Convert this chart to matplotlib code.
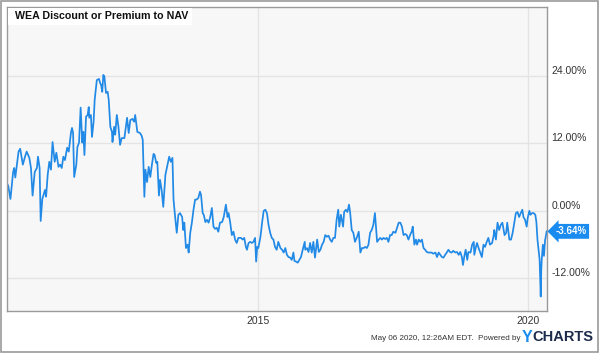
import numpy as np
import matplotlib
matplotlib.use("Agg")
import matplotlib.pyplot as plt
from matplotlib.patches import Rectangle

plt.rcParams["font.family"] = ["Liberation Sans", "DejaVu Sans"]

# decimal years and discount / premium to NAV (%)
years = [
    2010.36, 2010.37, 2010.41, 2010.46, 2010.48, 2010.50, 2010.56, 2010.59, 2010.64, 2010.68,
    2010.71, 2010.76, 2010.79, 2010.82, 2010.86, 2010.90, 2010.92, 2010.95, 2010.97, 2011.00,
    2011.05, 2011.07, 2011.10, 2011.13, 2011.16, 2011.19, 2011.23, 2011.26, 2011.30, 2011.33,
    2011.36, 2011.39, 2011.42, 2011.46, 2011.49, 2011.53, 2011.55, 2011.57, 2011.59, 2011.63,
    2011.65, 2011.68, 2011.71, 2011.74, 2011.76, 2011.78, 2011.81, 2011.84, 2011.86, 2011.87,
    2011.90, 2011.92, 2011.95, 2011.97, 2012.01, 2012.05, 2012.07, 2012.09, 2012.11, 2012.13,
    2012.15, 2012.18, 2012.21, 2012.23, 2012.26, 2012.29, 2012.30, 2012.33, 2012.35, 2012.38,
    2012.41, 2012.44, 2012.47, 2012.52, 2012.57, 2012.60, 2012.63, 2012.67, 2012.70, 2012.72,
    2012.76, 2012.81, 2012.84, 2012.86, 2012.89, 2012.91, 2012.94, 2012.97, 2013.00, 2013.03,
    2013.06, 2013.08, 2013.11, 2013.13, 2013.16, 2013.18, 2013.21, 2013.24, 2013.28, 2013.31,
    2013.35, 2013.38, 2013.41, 2013.43, 2013.46, 2013.49, 2013.52, 2013.55, 2013.59, 2013.61,
    2013.63, 2013.66, 2013.69, 2013.71, 2013.74, 2013.77, 2013.80, 2013.83, 2013.86, 2013.89,
    2013.92, 2013.94, 2013.97, 2013.99, 2014.02, 2014.05, 2014.08, 2014.11, 2014.14, 2014.17,
    2014.20, 2014.23, 2014.26, 2014.29, 2014.33, 2014.36, 2014.40, 2014.43, 2014.45, 2014.48,
    2014.51, 2014.54, 2014.57, 2014.60, 2014.63, 2014.68, 2014.71, 2014.74, 2014.77, 2014.79,
    2014.82, 2014.85, 2014.88, 2014.91, 2014.94, 2014.96, 2014.98, 2015.00, 2015.04, 2015.07,
    2015.10, 2015.13, 2015.16, 2015.19, 2015.22, 2015.25, 2015.28, 2015.31, 2015.34, 2015.37,
    2015.41, 2015.44, 2015.47, 2015.50, 2015.53, 2015.56, 2015.59, 2015.62, 2015.65, 2015.67,
    2015.70, 2015.73, 2015.76, 2015.79, 2015.83, 2015.86, 2015.87, 2015.90, 2015.93, 2015.96,
    2015.99, 2016.02, 2016.05, 2016.09, 2016.12, 2016.15, 2016.18, 2016.21, 2016.24, 2016.27,
    2016.30, 2016.33, 2016.36, 2016.39, 2016.42, 2016.45, 2016.48, 2016.50, 2016.53, 2016.57,
    2016.59, 2016.62, 2016.65, 2016.68, 2016.70, 2016.73, 2016.76, 2016.79, 2016.83, 2016.86,
    2016.89, 2016.92, 2016.95, 2016.98, 2017.01, 2017.04, 2017.07, 2017.10, 2017.13, 2017.16,
    2017.20, 2017.23, 2017.26, 2017.29, 2017.32, 2017.35, 2017.38, 2017.41, 2017.44, 2017.47,
    2017.50, 2017.54, 2017.57, 2017.60, 2017.63, 2017.66, 2017.69, 2017.72, 2017.75, 2017.78,
    2017.81, 2017.84, 2017.86, 2017.89, 2017.92, 2017.94, 2017.97, 2018.00, 2018.03, 2018.06,
    2018.09, 2018.12, 2018.15, 2018.18, 2018.21, 2018.24, 2018.28, 2018.31, 2018.34, 2018.37,
    2018.40, 2018.43, 2018.46, 2018.49, 2018.52, 2018.55, 2018.58, 2018.61, 2018.65, 2018.68,
    2018.71, 2018.74, 2018.77, 2018.79, 2018.82, 2018.84, 2018.87, 2018.89, 2018.93, 2018.96,
    2018.99, 2019.00, 2019.03, 2019.05, 2019.08, 2019.11, 2019.14, 2019.17, 2019.20, 2019.23,
    2019.26, 2019.29, 2019.33, 2019.36, 2019.37, 2019.40, 2019.43, 2019.46, 2019.49, 2019.52,
    2019.56, 2019.59, 2019.61, 2019.65, 2019.68, 2019.71, 2019.74, 2019.77, 2019.80, 2019.83,
    2019.86, 2019.89, 2019.91, 2019.94, 2019.97, 2019.99, 2020.02, 2020.04, 2020.07, 2020.10,
    2020.13, 2020.15, 2020.17, 2020.19, 2020.21, 2020.23, 2020.24, 2020.25, 2020.27, 2020.29,
    2020.31, 2020.34,
]
premium = [
    4.6, 4.4, 2.1, 6.9, 7.6, 5.9, 10.5, 11.0, 8.2, 9.6,
    10.5, 9.4, 7.6, 2.7, 6.9, 7.6, 9.6, 7.6, -1.8, 2.1,
    3.7, 2.5, 6.4, 8.7, 7.3, 12.2, 8.7, 10.3, 7.8, 8.2,
    7.6, 9.6, 9.0, 11.2, 10.5, 13.8, 14.7, 13.8, 6.0, 8.2,
    11.3, 12.1, 18.3, 12.1, 14.0, 9.9, 16.7, 17.0, 18.4, 16.5,
    17.0, 13.1, 15.8, 19.7, 23.2, 23.4, 22.7, 22.3, 21.1, 24.1,
    23.8, 20.9, 21.1, 19.7, 14.9, 14.0, 12.2, 14.9, 13.5, 17.0,
    14.9, 11.7, 12.9, 12.9, 16.5, 13.8, 16.1, 16.3, 15.8, 17.0,
    14.0, 13.8, 13.3, 12.6, 2.5, 7.3, 5.1, 7.8, 6.0, 8.2,
    10.1, 9.9, 8.5, 8.7, 2.7, 5.5, 3.7, 0.7, 6.4, 7.8,
    9.6, 8.7, 9.4, 2.0, -1.1, -3.9, -0.7, -0.4, -1.1, -3.4,
    -2.1, -6.6, -6.0, -7.4, -3.9, -2.1, 0.2, 2.0, 2.0, 2.3,
    3.4, 2.8, -0.4, -0.7, -2.0, -1.6, -2.1, -1.1, 0.5, -2.8,
    -3.2, -3.0, -3.7, -2.1, -2.0, -1.1, 1.1, -1.1, -0.4, -2.1,
    -4.3, -3.7, -5.1, -5.7, -4.8, -4.8, -5.1, -4.8, -6.4, -6.9,
    -5.7, -5.5, -5.7, -5.5, -4.8, -9.0, -6.4, -6.6, -4.6, -2.1,
    0.0, 0.2, -0.4, -2.5, -3.9, -4.8, -5.1, -6.4, -6.9, -5.5,
    -6.6, -6.9, -7.4, -6.6, -7.8, -8.2, -8.3, -8.7, -7.4, -8.9,
    -9.0, -9.2, -8.7, -8.2, -6.6, -5.5, -6.9, -6.6, -7.3, -5.7,
    -7.4, -5.5, -8.3, -5.1, -7.3, -6.9, -6.0, -5.5, -4.3, -4.6,
    -4.4, -5.1, -5.5, -4.8, -4.8, -1.6, 0.2, -2.8, -0.7, -2.8,
    -0.2, 0.2, -0.2, 1.1, -0.2, -3.4, -3.9, -5.5, -4.6, -3.7,
    -7.4, -6.6, -6.6, -6.4, -6.6, -6.0, -3.9, -3.4, -2.5, -0.4,
    -5.5, -5.1, -4.8, -5.1, -4.8, -5.0, -4.8, -5.5, -4.3, -4.3,
    -3.7, -3.9, -3.0, -2.1, -2.1, -2.8, -4.3, -4.1, -4.3, -5.1,
    -4.3, -3.7, -2.8, -6.0, -5.1, -6.0, -5.1, -5.5, -5.1, -6.6,
    -6.9, -7.3, -7.4, -7.4, -7.4, -7.6, -7.4, -8.2, -7.4, -7.8,
    -8.2, -8.3, -7.8, -7.4, -6.9, -7.3, -7.4, -7.1, -7.4, -7.3,
    -7.8, -7.3, -8.2, -9.6, -7.8, -6.9, -8.7, -7.3, -7.4, -6.0,
    -5.5, -7.8, -6.4, -5.7, -6.6, -7.4, -8.2, -6.0, -6.4, -5.5,
    -4.8, -6.0, -5.7, -4.3, -3.4, -5.1, -2.1, -3.4, -2.5, -2.1,
    -4.3, -3.9, -2.1, -5.1, -5.1, -3.9, -2.1, -0.4, -0.2, -1.1,
    -0.4, 0.2, -1.1, -1.6, -2.8, -1.2, 0.0, -0.7, -0.4, -0.4,
    -0.7, -2.0, -5.1, -6.9, -8.7, -15.2, -10.5, -8.5, -6.0, -8.0,
    -5.3, -3.64,
]
y_ticks = [-12, 0, 12, 24]
x_ticks = [2015, 2020]
title = "WEA Discount or Premium to NAV"

line_color = "#2189e6"

fig = plt.figure(figsize=(6, 3.53), dpi=100)
fig.patch.set_facecolor("white")
fig.patches.append(Rectangle((0.002, 0.003), 0.995, 0.994, transform=fig.transFigure,
                             fill=False, edgecolor="#9a9a9a", linewidth=1.2))

ax = fig.add_axes([0.012, 0.12, 0.9, 0.861])
ax.set_facecolor("#f7f7f7")
ax.plot(years, premium, color=line_color, linewidth=1.25)

ax.set_xlim(2010.35, 2020.35)
ax.set_ylim(-17.7, 36.2)
ax.set_xticks(x_ticks)
ax.set_xticklabels([str(x) for x in x_ticks])
ax.set_yticks(y_ticks)
ax.set_yticklabels(["%.2f%%" % v for v in y_ticks])
ax.yaxis.tick_right()
ax.tick_params(length=0, labelsize=7.5, colors="#333333")
ax.tick_params(axis="y", pad=3)
ax.tick_params(axis="x", pad=3.5)
for lbl in ax.get_yticklabels():
    lbl.set_va("bottom")
ax.grid(True, color="#e4e4e4", linewidth=1)
for s in ax.spines.values():
    s.set_color("#9a9a9a")
    s.set_linewidth(1)

# title box in the top left corner
ax.add_patch(Rectangle((0.0015, 0.94), 0.341, 0.056, transform=ax.transAxes,
                       facecolor="white", edgecolor="none", zorder=3))
ax.text(0.0144, 0.968, title, transform=ax.transAxes, ha="left", va="center",
        fontsize=7.7, fontweight="bold", color="#111111", zorder=4)

# last value tag
last = premium[-1]
ax.annotate("%.2f%%" % last, xy=(1.0, last), xycoords=("axes fraction", "data"),
            xytext=(6, 0), textcoords="offset points", ha="left", va="center",
            fontsize=7, fontweight="bold", color="white", annotation_clip=False,
            bbox=dict(boxstyle="larrow,pad=0.25", facecolor="#1a8cf0", edgecolor="none"))

fig.text(0.868, 0.04, "May 06 2020, 12:26AM EDT.  Powered by", ha="right", va="center",
         fontsize=5.8, color="#333333")
fig.text(0.869, 0.045, "Y", ha="left", va="center", fontsize=11.5,
         fontweight="bold", color="#1a8cf0")
fig.text(0.887, 0.045, "CHARTS", ha="left", va="center", fontsize=10.5,
         fontweight="bold", color="#1c2b4a")

fig.savefig("out.png", dpi=100)
